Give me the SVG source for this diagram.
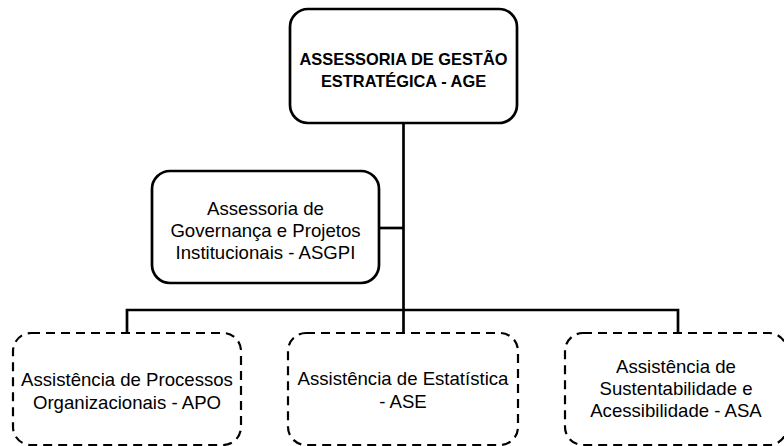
<svg xmlns="http://www.w3.org/2000/svg" width="784" height="446" viewBox="0 0 784 446">
<style>
.box{fill:#fff;stroke:#000;stroke-width:2.7}
.dbox{fill:#fff;stroke:#000;stroke-width:2.2;stroke-dasharray:9 6}
.t{font-family:"Liberation Sans",Arial,sans-serif;font-size:18.6px;fill:#000;text-anchor:middle}
.b{font-family:"Liberation Sans",Arial,sans-serif;font-size:16.4px;font-weight:bold;fill:#000;text-anchor:middle}
.c{fill:none;stroke:#000;stroke-width:2.7}
</style>
<rect width="784" height="446" fill="#fff"/>
<g id="connectors">
<path class="c" d="M403.5,123 V333"/>
<path class="c" d="M379,228 H403.5"/>
<path class="c" d="M127,333 V310 H678 V333"/>
</g>
<g id="age">
<rect class="box" x="290" y="9" width="227" height="114" rx="18"/>
<text class="b" x="403.5" y="65">ASSESSORIA DE GESTÃO</text>
<text class="b" x="403.5" y="87">ESTRATÉGICA - AGE</text>
</g>
<g id="asgpi">
<rect class="box" x="152" y="171" width="227" height="112" rx="18"/>
<text class="t" x="265.5" y="215">Assessoria de</text>
<text class="t" x="265.5" y="237">Governança e Projetos</text>
<text class="t" x="265.5" y="259">Institucionais - ASGPI</text>
</g>
<g id="apo">
<rect class="dbox" x="13" y="333" width="228" height="112" rx="18"/>
<text class="t" x="127" y="386">Assistência de Processos</text>
<text class="t" x="127" y="409">Organizacionais - APO</text>
</g>
<g id="ase">
<rect class="dbox" x="288" y="333" width="230" height="112" rx="18"/>
<text class="t" x="403" y="385">Assistência de Estatística</text>
<text class="t" x="403" y="408">- ASE</text>
</g>
<g id="asa">
<rect class="dbox" x="565" y="333" width="222" height="112" rx="18"/>
<text class="t" x="676" y="373">Assistência de</text>
<text class="t" x="676" y="395">Sustentabilidade e</text>
<text class="t" x="676" y="417">Acessibilidade - ASA</text>
</g>
</svg>
